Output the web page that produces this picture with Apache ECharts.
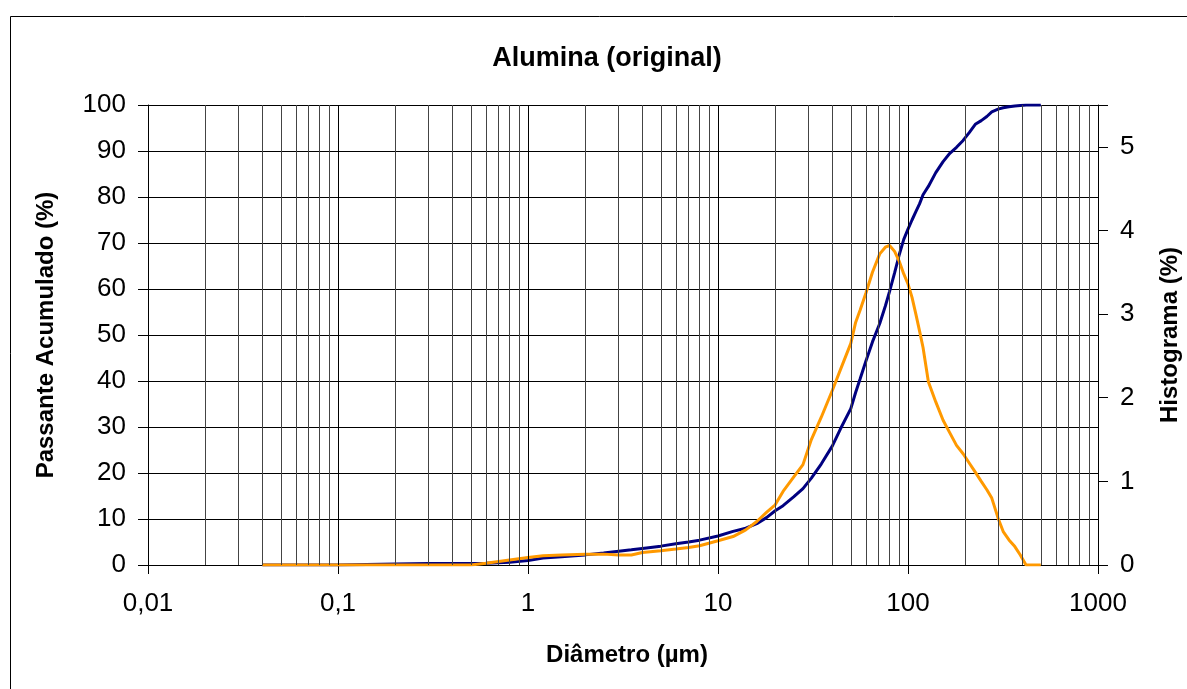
<!DOCTYPE html>
<html>
<head>
<meta charset="utf-8">
<script src="https://cdn.jsdelivr.net/npm/echarts@6/dist/echarts.min.js"></script>
<style>
  html, body { margin: 0; padding: 0; background: #fff; }
  #chart { width: 1187px; height: 689px; }
</style>
</head>
<body>
<div id="chart"></div>
<script>
// Particle size distribution of alumina: cumulative passing and histogram
const diametro = [0.04, 0.1, 0.2, 0.3, 0.5, 0.6, 0.8, 1, 1.2, 1.5, 2, 2.5, 3, 3.5, 4, 5, 6, 7, 8, 10,
  12, 14, 16, 18, 20, 22, 25, 28, 31, 35, 40, 44, 50, 53, 56, 60, 65, 71, 76, 80, 85, 90, 95, 100,
  105, 110, 115, 120, 128, 140, 153, 166, 180, 195, 210, 226, 243, 260, 276, 298, 317, 340, 365,
  390, 418, 450, 500];

const passanteAcumulado = [0, 0, 0.2, 0.3, 0.35, 0.4, 0.6, 1.0, 1.5, 1.8, 2.2, 2.6, 3.0, 3.3, 3.6, 4.1,
  4.6, 5.0, 5.4, 6.3, 7.3, 8.0, 9.0, 10.3, 11.8, 12.9, 14.8, 16.6, 18.9, 22.0, 25.9, 29.5, 34.0, 37.5,
  40.5, 44.3, 48.5, 52.5, 56.3, 59.5, 63.5, 67.5, 70.8, 73.0, 75.0, 76.8, 78.5, 80.5, 82.3, 85.3, 87.7,
  89.5, 90.8, 92.3, 94.0, 95.8, 96.6, 97.5, 98.5, 99.1, 99.4, 99.6, 99.8, 99.9, 100, 100, 100];

const histograma = [0, 0, 0, 0, 0, 0.02, 0.06, 0.09, 0.11, 0.12, 0.13, 0.13, 0.12, 0.12, 0.15, 0.17,
  0.19, 0.21, 0.23, 0.29, 0.34, 0.42, 0.52, 0.63, 0.72, 0.88, 1.05, 1.20, 1.50, 1.77, 2.09, 2.33, 2.65,
  2.90, 3.05, 3.25, 3.50, 3.72, 3.80, 3.82, 3.75, 3.63, 3.48, 3.36, 3.20, 3.00, 2.80, 2.60, 2.19, 1.95,
  1.73, 1.58, 1.43, 1.33, 1.22, 1.11, 1.00, 0.90, 0.80, 0.56, 0.40, 0.30, 0.22, 0.12, 0, 0, 0];

// Vertical grid lines at every 1..9 x 10^n between the decades
const linhasLog = [];
[0.01, 0.1, 1, 10, 100].forEach(dec => {
  for (let k = 2; k <= 9; k++) linhasLog.push(Number((k * dec).toPrecision(3)));
});
const decadas = [0.1, 1, 10, 100];

const fonte = 'Liberation Sans, Arial, sans-serif';
const chart = echarts.init(document.getElementById('chart'));

const fmtDecimal = v => String(Number(Number(v).toPrecision(3))).replace('.', ',');
const nomeEixo = { fontFamily: fonte, fontSize: 24, fontWeight: 'bold', color: '#000' };
const rotulo = { fontFamily: fonte, fontSize: 26, color: '#000' };

chart.setOption({
  animation: false,
  backgroundColor: '#fff',
  title: {
    text: 'Alumina (original)',
    left: 602, top: 40, textAlign: 'center',
    textStyle: { fontFamily: fonte, fontSize: 27, fontWeight: 'bold', color: '#000' }
  },
  graphic: [{
    type: 'rect', left: 8, top: 14,
    shape: { x: 0, y: 0, width: 1300, height: 800 },
    style: { fill: 'none', stroke: '#000', lineWidth: 1 }, silent: true, z: -1
  }],
  grid: { left: 148, right: 89, top: 105, bottom: 124, outerBoundsMode: 'none', containLabel: false },
  xAxis: {
    type: 'log', logBase: 10, min: 0.01, max: 1000,
    name: 'Diâmetro (µm)', nameLocation: 'middle', nameGap: 78,
    nameTextStyle: Object.assign({ padding: [0, 0, 0, 8] }, nomeEixo),
    axisLine: { show: true, onZero: false, lineStyle: { color: '#000', width: 1 } },
    axisTick: { show: true, length: 9, lineStyle: { color: '#000' } },
    axisLabel: Object.assign({ margin: 26, formatter: fmtDecimal }, rotulo),
    splitLine: { show: false }
  },
  yAxis: [{
    type: 'value', min: 0, max: 100, interval: 10,
    name: 'Passante Acumulado (%)', nameLocation: 'middle', nameGap: 90, nameRotate: 90,
    nameTextStyle: nomeEixo,
    axisLine: { show: true, lineStyle: { color: '#000', width: 1 } },
    axisTick: { show: true, length: 10, lineStyle: { color: '#000' } },
    axisLabel: Object.assign({ margin: 22 }, rotulo),
    splitLine: { show: true, lineStyle: { color: '#000', width: 1 } }
  }, {
    type: 'value', min: 0, max: 5.5, interval: 1,
    name: 'Histograma (%)', nameLocation: 'middle', nameGap: 60, nameRotate: 90,
    nameTextStyle: nomeEixo,
    axisLine: { show: true, lineStyle: { color: '#000', width: 1 } },
    axisTick: { show: true, length: 10, lineStyle: { color: '#000' } },
    axisLabel: Object.assign({ margin: 22, formatter: v => (v > 5 ? '' : String(v)) }, rotulo),
    splitLine: { show: false }
  }],
  series: [{
    name: 'Passante Acumulado',
    type: 'line', yAxisIndex: 0,
    data: diametro.map((d, i) => [d, passanteAcumulado[i]]),
    showSymbol: false, smooth: false,
    lineStyle: { color: '#000080', width: 3 },
    itemStyle: { color: '#000080' },
    markLine: {
      silent: true, symbol: 'none', animation: false,
      label: { show: false },
      data: linhasLog.map(v => ({ xAxis: v, lineStyle: { color: '#444', width: 1, type: 'solid' } }))
        .concat(decadas.map(v => ({ xAxis: v, lineStyle: { color: '#000', width: 1, type: 'solid' } })))
    },
    z: 2
  }, {
    name: 'Histograma',
    type: 'line', yAxisIndex: 1,
    data: diametro.map((d, i) => [d, histograma[i]]),
    showSymbol: false, smooth: false,
    lineStyle: { color: '#FF9900', width: 3 },
    itemStyle: { color: '#FF9900' },
    z: 3
  }]
});
</script>
</body>
</html>
